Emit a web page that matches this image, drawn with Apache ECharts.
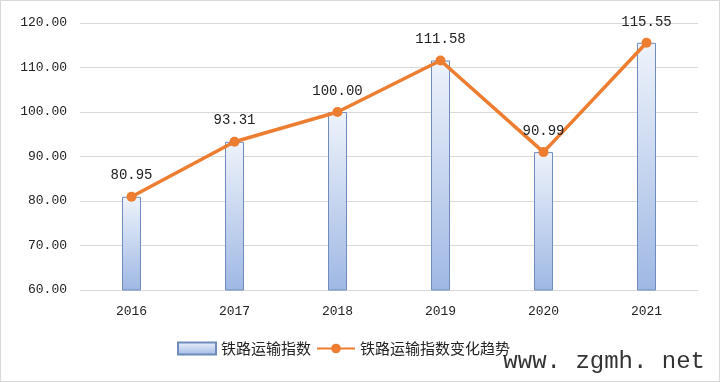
<!DOCTYPE html>
<html><head><meta charset="utf-8">
<script src="https://cdn.jsdelivr.net/npm/echarts@6/dist/echarts.min.js"></script>
<style>html,body{margin:0;padding:0;background:#fff}#c{width:720px;height:382px;box-sizing:border-box;border:1px solid #d9d9d9}</style>
</head><body><div id="c"></div>
<script>
var categories = ['2016','2017','2018','2019','2020','2021'];
var indexValues = [80.95, 93.31, 100.00, 111.58, 90.99, 115.55];
var trendValues = [80.95, 93.31, 100.00, 111.58, 90.99, 115.55];
var barName = '铁路运输指数';
var lineName = '铁路运输指数变化趋势';
var numFont = '"Liberation Mono","DejaVu Sans Mono",monospace';
var chart = echarts.init(document.getElementById('c'));
chart.setOption({
  animation:false,
  grid:{left:79,right:21,top:22,bottom:91},
  xAxis:{type:'category',data:categories,
    axisLine:{lineStyle:{color:'#d9d9d9'}},axisTick:{show:false},
    axisLabel:{color:'#222',fontSize:13,fontFamily:numFont,margin:15}},
  yAxis:{type:'value',min:60,max:120,interval:10,
    axisLine:{show:false},axisTick:{show:false},
    splitLine:{lineStyle:{color:'#d9d9d9'}},
    axisLabel:{color:'#222',fontSize:13,fontFamily:numFont,margin:13,formatter:function(v){return v.toFixed(2);}}},
  legend:{bottom:20,left:171,itemGap:5,itemWidth:38,itemHeight:12,
    textStyle:{fontFamily:'"Noto Sans CJK SC"',fontSize:15,color:'#222'},
    data:[{name:barName,icon:'rect'},{name:lineName}]},
  series:[
    {name:barName,type:'bar',data:indexValues,barWidth:19,
     itemStyle:{borderColor:'#6f8cbd',borderWidth:1,
       color:new echarts.graphic.LinearGradient(0,0,0,1,[{offset:0,color:'#eef3fb'},{offset:1,color:'#9fb8e4'}])}},
    {name:lineName,type:'line',data:trendValues,symbol:'circle',symbolSize:10,
     lineStyle:{color:'#ED7D31',width:3.5},itemStyle:{color:'#ED7D31'},
     label:{show:true,position:'top',distance:9,color:'#222',fontSize:14,fontFamily:numFont,
       formatter:function(p){return p.value.toFixed(2);}}}
  ],
  graphic:[{type:'text',right:14,bottom:7,style:{text:'www. zgmh. net',fontSize:24,fontFamily:'"Liberation Mono",monospace',fill:'#333'}}]
});
</script></body></html>
